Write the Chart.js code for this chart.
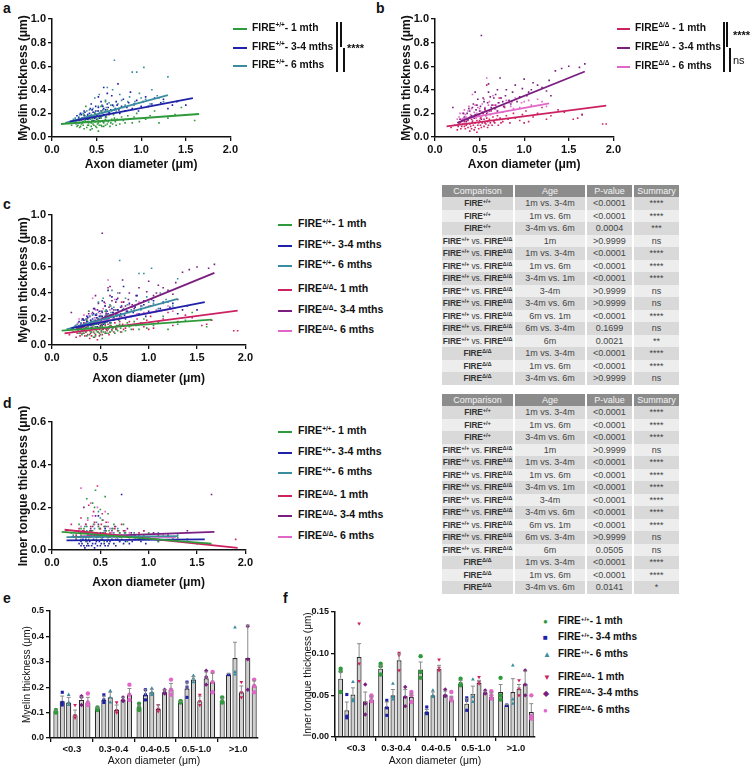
<!DOCTYPE html>
<html>
<head>
<meta charset="utf-8">
<script src="https://cdn.jsdelivr.net/npm/chart.js@4.4.1/dist/chart.umd.min.js"></script>
<style>
  body { margin: 0; background: #fff; font-family: "Liberation Sans", Arial, sans-serif; }
  #fig { position: relative; width: 753px; height: 767px; overflow: hidden; }
  canvas { position: absolute; }
  .pl { position: absolute; font-weight: bold; font-size: 14px; color: #111; }
  .leg { position: absolute; font-weight: bold; white-space: nowrap; color: #111; z-index: 2; }
  .ln { position: absolute; height: 2px; }
  .mk { position: absolute; font-size: 8px; line-height: 8px; }
  sup { font-size: 0.62em; vertical-align: 0; position: relative; top: -0.55em; line-height: 0; }
  .br { position: absolute; background: #111; width: 1.5px; z-index: 2; }
  .sig { position: absolute; font-weight: bold; font-size: 11px; color: #111; }
  table.st { position: absolute; border-collapse: collapse; font-size: 9px; color: #444; table-layout: fixed; }
  table.st th { background: #8c8c8c; color: #f4f4f4; font-weight: normal; height: 12px; line-height: 12px; padding: 0; border-right: 2px solid #fff; }
  table.st td { height: 12.5px; line-height: 12.5px; padding: 0; text-align: center; border-right: 2px solid #fff; white-space: nowrap; overflow: hidden; box-sizing: border-box; }
  table.st td:first-child { font-size: 8.3px; letter-spacing: -0.1px; }
  table.st tr:nth-child(odd) td { background: #ededed; }
  table.st tr:nth-child(even) td { background: #d9d9d9; }
  table.st td b { color: #333; }
  table.st sup { font-size: 0.7em; top: -0.45em; }
</style>
</head>
<body>
<div id="fig"></div>
<script>
// ==================== DADOS ====================

const seriesNames = ['1 mth', '3-4 mths', '6 mths', '1 mth', '3-4 mths', '6 mths'];
const seriesColors = ['#2f9a3c', '#1f22a8', '#3a8d9e', '#cc2262', '#7a1e80', '#e266c8'];

// myelin thickness vs axon diameter [x, y]
const wt1Myelin = [[0.22,0.10],[0.25,0.12],[0.28,0.09],[0.3,0.14],[0.31,0.08],[0.33,0.11],[0.35,0.13],[0.36,0.07],[0.38,0.16],[0.4,0.1],[0.41,0.12],[0.42,0.18],[0.44,0.09],[0.45,0.14],[0.46,0.11],[0.48,0.2],[0.49,0.13],[0.5,0.08],[0.51,0.15],[0.52,0.12],[0.53,0.17],[0.55,0.1],[0.56,0.22],[0.57,0.13],[0.58,0.09],[0.6,0.15],[0.62,0.11],[0.64,0.19],[0.66,0.12],[0.7,0.16],[0.72,0.1],[0.75,0.24],[0.8,0.14],[0.85,0.18],[0.9,0.12],[0.95,0.2],[1.05,0.15],[1.15,0.22],[1.3,0.16],[1.45,0.25],[1.6,0.14],[0.38,0.26],[0.6,0.3],
  [0.27,0.13],[0.29,0.1],[0.31,0.15],[0.32,0.09],[0.34,0.12],[0.35,0.1],[0.37,0.14],[0.39,0.08],[0.4,0.13],[0.41,0.1],[0.43,0.15],[0.44,0.12],[0.45,0.07],[0.46,0.16],[0.47,0.1],[0.48,0.13],[0.49,0.09],[0.5,0.17],[0.51,0.11],[0.52,0.14],[0.53,0.1],[0.54,0.13],[0.55,0.16],[0.56,0.09],[0.57,0.18],[0.58,0.12],[0.59,0.14],[0.6,0.1],[0.61,0.17],[0.63,0.13],[0.65,0.09],[0.67,0.15],[0.68,0.11],[0.69,0.19],[0.71,0.13],[0.73,0.15],[0.76,0.11],[0.78,0.17],[0.82,0.12],[0.87,0.15],[0.92,0.17],[0.98,0.13],[1.1,0.18],[1.2,0.12],[1.38,0.19],[0.43,0.06],[0.52,0.05],[0.36,0.19],[0.62,0.23],[0.55,0.26]];
const wt3Myelin = [[0.26,0.14],[0.28,0.18],[0.3,0.12],[0.32,0.2],[0.34,0.16],[0.36,0.22],[0.38,0.15],[0.4,0.19],[0.41,0.13],[0.43,0.24],[0.44,0.17],[0.46,0.21],[0.47,0.14],[0.49,0.26],[0.5,0.18],[0.52,0.22],[0.53,0.16],[0.55,0.3],[0.56,0.2],[0.58,0.24],[0.6,0.17],[0.62,0.28],[0.64,0.21],[0.67,0.35],[0.7,0.23],[0.73,0.27],[0.76,0.2],[0.8,0.32],[0.84,0.25],[0.88,0.38],[0.92,0.28],[0.97,0.22],[1.02,0.3],[1.08,0.26],[1.15,0.33],[1.22,0.29],[1.3,0.24],[1.4,0.3],[1.5,0.27],[0.58,0.42],[0.74,0.45],
  [0.3,0.16],[0.31,0.14],[0.33,0.19],[0.35,0.13],[0.36,0.18],[0.37,0.21],[0.39,0.17],[0.4,0.15],[0.42,0.2],[0.42,0.16],[0.43,0.18],[0.45,0.14],[0.45,0.23],[0.46,0.18],[0.48,0.16],[0.48,0.2],[0.49,0.22],[0.5,0.15],[0.51,0.19],[0.52,0.25],[0.53,0.2],[0.54,0.17],[0.55,0.22],[0.56,0.18],[0.57,0.26],[0.58,0.19],[0.59,0.21],[0.6,0.23],[0.61,0.19],[0.63,0.25],[0.65,0.2],[0.66,0.23],[0.68,0.27],[0.69,0.2],[0.71,0.24],[0.72,0.3],[0.75,0.23],[0.78,0.26],[0.82,0.22],[0.86,0.29],[0.9,0.24],[0.95,0.31],[1.0,0.26],[1.05,0.34],[1.12,0.28],[1.25,0.32],[1.35,0.27],[0.52,0.34],[0.62,0.37],[0.44,0.28]];
const wt6Myelin = [[0.2,0.12],[0.24,0.15],[0.27,0.11],[0.3,0.17],[0.33,0.14],[0.35,0.2],[0.38,0.13],[0.4,0.18],[0.42,0.23],[0.45,0.16],[0.47,0.21],[0.5,0.19],[0.52,0.26],[0.55,0.17],[0.57,0.23],[0.6,0.31],[0.63,0.2],[0.66,0.27],[0.7,0.65],[0.72,0.22],[0.76,0.36],[0.8,0.25],[0.85,0.3],[0.9,0.55],[0.92,0.27],[0.95,0.55],[1.0,0.33],[1.03,0.59],[1.1,0.28],[1.18,0.35],[1.25,0.3],[1.3,0.51],[0.62,0.42],[0.48,0.33],
  [0.22,0.13],[0.26,0.16],[0.29,0.14],[0.31,0.19],[0.34,0.16],[0.37,0.18],[0.39,0.22],[0.41,0.15],[0.44,0.19],[0.46,0.24],[0.49,0.17],[0.51,0.22],[0.54,0.2],[0.56,0.27],[0.59,0.21],[0.61,0.25],[0.64,0.29],[0.67,0.22],[0.69,0.26],[0.74,0.28],[0.78,0.31],[0.82,0.27],[0.87,0.34],[0.93,0.3],[0.98,0.37],[1.05,0.32],[1.12,0.4],[1.2,0.33],[0.53,0.36],[0.68,0.4]];
const ko1Myelin = [[0.18,0.08],[0.22,0.1],[0.25,0.06],[0.28,0.12],[0.3,0.09],[0.32,0.14],[0.34,0.07],[0.36,0.11],[0.38,0.16],[0.4,0.09],[0.42,0.13],[0.44,0.06],[0.46,0.18],[0.48,0.1],[0.5,0.14],[0.52,0.08],[0.54,0.2],[0.56,0.12],[0.58,0.16],[0.6,0.1],[0.63,0.22],[0.66,0.13],[0.7,0.18],[0.74,0.12],[0.78,0.25],[0.82,0.15],[0.88,0.2],[0.95,0.14],[1.02,0.22],[1.1,0.17],[1.2,0.25],[1.3,0.18],[1.45,0.21],[1.55,0.15],[1.65,0.19],[1.88,0.11],[1.92,0.11],[0.72,0.33],[0.58,0.44],
  [0.26,0.09],[0.27,0.12],[0.29,0.07],[0.31,0.11],[0.33,0.09],[0.33,0.13],[0.35,0.1],[0.37,0.08],[0.37,0.14],[0.39,0.11],[0.41,0.07],[0.41,0.15],[0.43,0.1],[0.45,0.12],[0.45,0.08],[0.47,0.14],[0.49,0.07],[0.49,0.12],[0.51,0.1],[0.51,0.16],[0.53,0.12],[0.55,0.09],[0.55,0.15],[0.57,0.11],[0.59,0.13],[0.59,0.08],[0.61,0.15],[0.62,0.12],[0.64,0.1],[0.65,0.17],[0.67,0.12],[0.69,0.15],[0.71,0.1],[0.73,0.16],[0.76,0.13],[0.8,0.18],[0.84,0.12],[0.9,0.16],[0.98,0.19],[1.05,0.13],[1.15,0.2],[1.25,0.15],[1.38,0.23],[0.39,0.05],[0.47,0.04],[0.56,0.23],[0.68,0.27],[0.86,0.3],[1.0,0.12],[1.6,0.16]];
const ko3Myelin = [[0.2,0.25],[0.28,0.15],[0.32,0.2],[0.35,0.13],[0.38,0.24],[0.4,0.17],[0.43,0.28],[0.45,0.19],[0.48,0.32],[0.5,0.22],[0.52,0.15],[0.55,0.3],[0.58,0.2],[0.6,0.38],[0.63,0.25],[0.66,0.33],[0.7,0.22],[0.73,0.5],[0.76,0.3],[0.8,0.4],[0.85,0.28],[0.9,0.44],[0.95,0.34],[1.0,0.49],[1.05,0.38],[1.1,0.46],[1.2,0.42],[1.3,0.35],[1.35,0.56],[1.42,0.58],[1.5,0.6],[1.62,0.59],[1.68,0.62],[1.65,0.19],[0.52,0.86],
  [0.3,0.14],[0.33,0.17],[0.36,0.2],[0.37,0.15],[0.39,0.22],[0.41,0.18],[0.42,0.25],[0.44,0.16],[0.46,0.23],[0.47,0.27],[0.49,0.19],[0.51,0.26],[0.53,0.21],[0.54,0.33],[0.56,0.24],[0.57,0.18],[0.59,0.29],[0.61,0.22],[0.62,0.34],[0.64,0.27],[0.67,0.24],[0.68,0.36],[0.71,0.29],[0.74,0.33],[0.77,0.26],[0.79,0.35],[0.83,0.31],[0.87,0.38],[0.92,0.3],[0.98,0.41],[1.03,0.35],[1.08,0.4],[1.15,0.44],[1.25,0.39],[1.28,0.48],[0.45,0.38],[0.6,0.45],[0.7,0.4]];
const ko6Myelin = [[0.25,0.15],[0.28,0.2],[0.3,0.13],[0.33,0.23],[0.35,0.17],[0.38,0.26],[0.4,0.19],[0.42,0.14],[0.45,0.27],[0.47,0.2],[0.5,0.24],[0.52,0.17],[0.55,0.32],[0.57,0.22],[0.6,0.27],[0.62,0.19],[0.65,0.35],[0.68,0.24],[0.72,0.29],[0.76,0.21],[0.8,0.31],[0.85,0.26],[0.9,0.33],[0.95,0.25],[1.0,0.3],[1.08,0.27],[1.15,0.32],[1.25,0.26],[0.58,0.5],[0.42,0.36],
  [0.27,0.17],[0.29,0.15],[0.31,0.2],[0.32,0.16],[0.34,0.19],[0.36,0.14],[0.37,0.22],[0.39,0.17],[0.41,0.24],[0.43,0.18],[0.44,0.21],[0.46,0.16],[0.48,0.25],[0.49,0.19],[0.51,0.22],[0.53,0.28],[0.54,0.2],[0.56,0.25],[0.59,0.21],[0.61,0.3],[0.63,0.23],[0.66,0.27],[0.7,0.22],[0.74,0.33],[0.78,0.26],[0.83,0.29],[0.88,0.24],[0.97,0.29],[1.05,0.31],[1.2,0.3]];

// linear fits (start, end) for myelin
const myelinFits = [
  [[0.1,0.11],[1.65,0.195]],
  [[0.2,0.13],[1.58,0.33]],
  [[0.15,0.12],[1.3,0.355]],
  [[0.13,0.09],[1.92,0.265]],
  [[0.25,0.12],[1.68,0.555]],
  [[0.3,0.15],[1.28,0.285]]
];

// inner tongue thickness vs axon diameter [x, y]
const wt1Tongue = [[0.2,0.08],[0.25,0.05],[0.28,0.12],[0.3,0.07],[0.33,0.1],[0.35,0.04],[0.37,0.15],[0.4,0.06],[0.42,0.09],[0.44,0.2],[0.46,0.05],[0.48,0.11],[0.5,0.07],[0.52,0.14],[0.54,0.04],[0.56,0.09],[0.58,0.17],[0.6,0.06],[0.63,0.1],[0.66,0.05],[0.7,0.08],[0.74,0.12],[0.78,0.04],[0.82,0.07],[0.9,0.05],[1.0,0.08],[1.1,0.04],[1.3,0.06],[1.5,0.03],[0.45,0.28],[0.36,0.24],
  [0.3,0.1],[0.32,0.06],[0.34,0.08],[0.36,0.11],[0.38,0.05],[0.39,0.09],[0.41,0.07],[0.43,0.12],[0.45,0.08],[0.47,0.06],[0.49,0.1],[0.51,0.05],[0.53,0.08],[0.55,0.11],[0.57,0.06],[0.59,0.09],[0.61,0.07],[0.64,0.12],[0.67,0.06],[0.69,0.09],[0.72,0.05],[0.76,0.08],[0.85,0.06],[0.95,0.07],[0.42,0.22],[0.5,0.19],[0.55,0.25]];
const wt3Tongue = [[0.28,0.03],[0.3,0.02],[0.32,0.05],[0.34,0.01],[0.36,0.04],[0.38,0.02],[0.4,0.06],[0.42,0.03],[0.44,0.01],[0.46,0.04],[0.48,0.16],[0.5,0.02],[0.52,0.05],[0.54,0.03],[0.56,0.07],[0.58,0.02],[0.6,0.04],[0.64,0.03],[0.68,0.05],[0.72,0.26],[0.76,0.04],[0.8,0.03],[0.86,0.05],[0.92,0.04],[1.0,0.06],[1.1,0.04],[1.25,0.05],[1.4,0.05],[0.4,0.09],
  [0.3,0.04],[0.31,0.03],[0.33,0.02],[0.35,0.05],[0.36,0.02],[0.37,0.03],[0.39,0.04],[0.41,0.02],[0.43,0.05],[0.45,0.03],[0.47,0.02],[0.49,0.04],[0.51,0.03],[0.53,0.06],[0.55,0.02],[0.57,0.04],[0.59,0.03],[0.62,0.05],[0.66,0.02],[0.7,0.04],[0.74,0.03],[0.83,0.04],[0.9,0.05],[0.97,0.03],[0.38,0.08],[0.55,0.1]];
const wt6Tongue = [[0.22,0.07],[0.26,0.09],[0.3,0.05],[0.34,0.11],[0.38,0.06],[0.42,0.08],[0.46,0.13],[0.5,0.06],[0.54,0.09],[0.58,0.05],[0.62,0.1],[0.66,0.07],[0.7,0.04],[0.75,0.08],[0.8,0.06],[0.9,0.07],[1.0,0.05],[1.1,0.08],[1.2,0.06],[1.3,0.07],[0.48,0.18],
  [0.28,0.08],[0.32,0.06],[0.36,0.09],[0.4,0.07],[0.44,0.1],[0.48,0.06],[0.52,0.08],[0.56,0.11],[0.6,0.06],[0.64,0.08],[0.68,0.1],[0.72,0.06],[0.85,0.08],[0.95,0.06],[0.5,0.15]];
const ko1Tongue = [[0.15,0.09],[0.2,0.12],[0.25,0.07],[0.3,0.15],[0.33,0.09],[0.36,0.06],[0.4,0.11],[0.43,0.18],[0.46,0.08],[0.5,0.1],[0.53,0.06],[0.56,0.13],[0.6,0.08],[0.65,0.1],[0.7,0.06],[0.75,0.09],[0.8,0.05],[0.9,0.08],[1.0,0.06],[1.1,0.07],[1.3,0.05],[1.6,0.03],[1.9,0.05],[0.47,0.3],
  [0.28,0.1],[0.32,0.08],[0.35,0.12],[0.38,0.07],[0.41,0.09],[0.44,0.13],[0.48,0.07],[0.51,0.12],[0.55,0.08],[0.58,0.11],[0.62,0.07],[0.68,0.09],[0.72,0.12],[0.85,0.07],[0.95,0.09],[0.38,0.21],[0.52,0.17]];
const ko3Tongue = [[0.25,0.05],[0.3,0.08],[0.35,0.06],[0.4,0.1],[0.44,0.07],[0.48,0.12],[0.52,0.06],[0.56,0.09],[0.6,0.07],[0.65,0.11],[0.7,0.08],[0.78,0.1],[0.86,0.07],[0.95,0.09],[1.05,0.08],[1.2,0.07],[1.4,0.09],[1.65,0.26],[0.33,0.2],
  [0.28,0.06],[0.32,0.09],[0.37,0.07],[0.42,0.11],[0.46,0.06],[0.5,0.08],[0.54,0.11],[0.58,0.06],[0.62,0.09],[0.68,0.07],[0.74,0.09],[0.82,0.08],[0.45,0.16]];
const ko6Tongue = [[0.28,0.09],[0.32,0.06],[0.35,0.12],[0.38,0.07],[0.42,0.16],[0.45,0.08],[0.48,0.11],[0.5,0.06],[0.53,0.14],[0.56,0.07],[0.6,0.1],[0.64,0.06],[0.68,0.09],[0.72,0.07],[0.8,0.08],[0.9,0.07],[1.0,0.06],[1.15,0.07],[1.25,0.06],[0.4,0.22],[0.3,0.29],
  [0.3,0.11],[0.34,0.08],[0.37,0.14],[0.4,0.09],[0.44,0.12],[0.47,0.07],[0.5,0.1],[0.55,0.09],[0.58,0.13],[0.62,0.08],[0.66,0.11],[0.7,0.06],[0.76,0.09],[0.47,0.2],[0.55,0.18]];

const tongueFits = [
  [[0.1,0.085],[1.65,0.03]],
  [[0.15,0.045],[1.58,0.05]],
  [[0.15,0.06],[1.3,0.065]],
  [[0.13,0.095],[1.92,0.01]],
  [[0.2,0.06],[1.68,0.085]],
  [[0.3,0.065],[1.28,0.06]]
];

// binned bar charts (series x bins)
const bins = ['<0.3', '0.3-0.4', '0.4-0.5', '0.5-1.0', '>1.0'];
const myelinMeans = [
  [0.105, 0.115, 0.12, 0.14, 0.145],
  [0.145, 0.15, 0.17, 0.195, 0.25],
  [0.14, 0.16, 0.18, 0.23, 0.315],
  [0.09, 0.11, 0.115, 0.145, 0.18],
  [0.15, 0.15, 0.18, 0.235, 0.315],
  [0.14, 0.17, 0.19, 0.22, 0.205]
];
const myelinSd = [
  [0.005, 0.006, 0.01, 0.004, 0.012],
  [0.02, 0.015, 0.02, 0.025, 0.004],
  [0.02, 0.02, 0.012, 0.012, 0.062],
  [0.02, 0.02, 0.015, 0.02, 0.025],
  [0.012, 0.01, 0.01, 0.025, 0.13],
  [0.02, 0.025, 0.025, 0.035, 0.02]
];
const myelinPts = [
  [[0.10,0.11,0.105],[0.12,0.11,0.115],[0.135,0.11,0.12],[0.145,0.14,0.145],[0.16,0.14,0.145]],
  [[0.18,0.13,0.14],[0.17,0.14,0.15],[0.19,0.15,0.17],[0.22,0.16,0.2],[0.25,0.25,0.25]],
  [[0.17,0.13,0.14],[0.185,0.14,0.16],[0.195,0.17,0.18],[0.245,0.22,0.235],[0.435,0.25,0.26]],
  [[0.13,0.08,0.09],[0.14,0.10,0.11],[0.13,0.105,0.115],[0.17,0.13,0.145],[0.22,0.16,0.18]],
  [[0.165,0.16,0.13],[0.16,0.145,0.15],[0.19,0.175,0.18],[0.265,0.21,0.24],[0.44,0.19,0.31]],
  [[0.175,0.13,0.14],[0.21,0.15,0.17],[0.23,0.17,0.19],[0.26,0.18,0.22],[0.23,0.18,0.205]]
];

const tongueMeans = [
  [0.07, 0.082, 0.081, 0.064, 0.054],
  [0.032, 0.036, 0.03, 0.04, 0.038],
  [0.051, 0.05, 0.05, 0.052, 0.054],
  [0.096, 0.092, 0.082, 0.065, 0.058],
  [0.043, 0.049, 0.051, 0.053, 0.064],
  [0.045, 0.048, 0.045, 0.048, 0.03]
];
const tongueSd = [
  [0.008, 0.004, 0.009, 0.004, 0.009],
  [0.01, 0.006, 0.003, 0.006, 0.001],
  [0.008, 0.007, 0.004, 0.009, 0.016],
  [0.016, 0.008, 0.004, 0.003, 0.005],
  [0.011, 0.008, 0.004, 0.002, 0.015],
  [0.004, 0.004, 0.004, 0.005, 0.01]
];
const tonguePts = [
  [[0.082,0.054,0.079],[0.088,0.075,0.085],[0.097,0.071,0.078],[0.07,0.062,0.064],[0.071,0.045,0.05]],
  [[0.051,0.023,0.025],[0.044,0.026,0.035],[0.036,0.028,0.029],[0.047,0.032,0.044],[0.038,0.038,0.038]],
  [[0.066,0.045,0.043],[0.064,0.045,0.048],[0.056,0.05,0.048],[0.069,0.042,0.048],[0.086,0.04,0.045]],
  [[0.136,0.088,0.067],[0.101,0.08,0.098],[0.093,0.08,0.083],[0.072,0.064,0.066],[0.068,0.05,0.058]],
  [[0.063,0.027,0.04],[0.06,0.037,0.048],[0.057,0.049,0.05],[0.056,0.052,0.053],[0.08,0.05,0.063]],
  [[0.05,0.043,0.048],[0.054,0.042,0.05],[0.054,0.044,0.047],[0.055,0.046,0.05],[0.05,0.022,0.025]]
];

// tabelas de comparacao
const tblGroup = ['wt','wt','wt','x','x','x','x','x','x','x','x','x','ko','ko','ko'];
const tblAge = ['1m vs. 3-4m','1m vs. 6m','3-4m vs. 6m','1m','1m vs. 3-4m','1m vs. 6m','3-4m vs. 1m','3-4m','3-4m vs. 6m','6m vs. 1m','6m vs. 3-4m','6m','1m vs. 3-4m','1m vs. 6m','3-4m vs. 6m'];
const myelinP = ['<0.0001','<0.0001','0.0004','>0.9999','<0.0001','<0.0001','<0.0001','>0.9999','>0.9999','<0.0001','0.1699','0.0021','<0.0001','<0.0001','>0.9999'];
const myelinSum = ['****','****','***','ns','****','****','****','ns','ns','****','ns','**','****','****','ns'];
const tongueP = ['<0.0001','<0.0001','<0.0001','>0.9999','<0.0001','<0.0001','<0.0001','<0.0001','<0.0001','<0.0001','>0.9999','0.0505','<0.0001','<0.0001','0.0141'];
const tongueSum = ['****','****','****','ns','****','****','****','****','****','****','ns','ns','****','****','*'];

// ==================== AUXILIARES ====================

const FONT = '"Liberation Sans", Arial, sans-serif';
const fig = document.getElementById('fig');
const WT = 'FIRE<sup>+/+</sup>';
const KO = 'FIRE<sup>&Delta;/&Delta;</sup>';

Chart.defaults.font.family = FONT;
Chart.defaults.color = '#111';
Chart.defaults.animation = false;

function addCanvas(left, top, w, h) {
    const c = document.createElement('canvas');
    c.width = w; c.height = h;
    c.style.left = left + 'px'; c.style.top = top + 'px';
    c.style.width = w + 'px'; c.style.height = h + 'px';
    fig.appendChild(c);
    return c;
}

function addHtml(cls, left, top, html, style) {
    const d = document.createElement('div');
    d.className = cls;
    d.style.left = left + 'px'; d.style.top = top + 'px';
    if (style) Object.assign(d.style, style);
    d.innerHTML = html;
    fig.appendChild(d);
    return d;
}

function axisStyle(tickSize) {
    return {
        grid: { display: true, drawOnChartArea: false, drawTicks: true, tickLength: 4, color: '#111', lineWidth: 1.3 },
        border: { display: true, color: '#111', width: 1.5 },
        ticks: { font: { size: tickSize, weight: 'bold' }, color: '#111', padding: 2 }
    };
}

function toXY(arr) { return arr.map(p => ({ x: p[0], y: p[1] })); }

function scatterChart(canvas, sets, fits, idx, opt) {
    const datasets = [];
    idx.forEach(i => {
        datasets.push({
            type: 'line', data: toXY(fits[i]), borderColor: seriesColors[i], borderWidth: 1.8,
            pointRadius: 0, showLine: true, order: 0
        });
    });
    idx.forEach(i => {
        datasets.push({
            type: 'scatter', data: toXY(sets[i]), backgroundColor: seriesColors[i], borderWidth: 0,
            pointRadius: 1.15, pointStyle: 'rect', order: 1
        });
    });
    const xs = axisStyle(11), ys = axisStyle(11);
    return new Chart(canvas, {
        type: 'scatter',
        data: { datasets },
        options: {
            responsive: false,
            layout: { padding: { top: opt.padTop, right: 8, left: opt.padLeft, bottom: 0 } },
            plugins: { legend: { display: false }, tooltip: { enabled: false } },
            scales: {
                x: Object.assign(xs, {
                    type: 'linear', min: 0, max: 2,
                    ticks: Object.assign(xs.ticks, { stepSize: 0.5, callback: v => v.toFixed(1) }),
                    title: { display: true, text: 'Axon diameter (\u03bcm)', font: { size: 12, weight: 'bold' }, padding: 0 },
                    afterFit: s => { s.height = opt.xH; }
                }),
                y: Object.assign(ys, {
                    min: 0, max: opt.yMax,
                    ticks: Object.assign(ys.ticks, { stepSize: opt.yStep, callback: v => v.toFixed(1) }),
                    title: { display: true, text: opt.yTitle, font: { size: 12, weight: 'bold' }, padding: 0 },
                    afterFit: s => { s.width = opt.yW; }
                })
            }
        }
    });
}

const errorBars = {
    id: 'errorBars',
    afterDatasetsDraw(chart) {
        const ctx = chart.ctx;
        chart.data.datasets.forEach((ds, di) => {
            if (!ds.sd) return;
            const meta = chart.getDatasetMeta(di);
            const yScale = chart.scales.y;
            ctx.save();
            ctx.strokeStyle = '#8a8a8a';
            ctx.lineWidth = 1;
            meta.data.forEach((bar, i) => {
                const top = yScale.getPixelForValue(ds.data[i].y + ds.sd[i]);
                ctx.beginPath();
                ctx.moveTo(bar.x, bar.y);
                ctx.lineTo(bar.x, top);
                ctx.moveTo(bar.x - 2, top);
                ctx.lineTo(bar.x + 2, top);
                ctx.stroke();
            });
            ctx.restore();
        });
    }
};

const ptStyles = ['circle', 'rect', 'triangle', 'triangle', 'rectRot', 'circle'];
const ptRot = [0, 0, 0, 180, 0, 0];

function barChart(canvas, means, sd, pts, opt) {
    const pos = (g, j) => g * 6.5 + j;
    const barData = [], barSd = [];
    means.forEach((row, j) => row.forEach((v, g) => {
        barData.push({ x: pos(g, j), y: v });
        barSd.push(sd[j][g]);
    }));
    const datasets = [{
        type: 'bar', data: barData, sd: barSd, backgroundColor: '#cfcfcf', borderColor: '#2a2a2a',
        borderWidth: 1.2, barPercentage: 0.8, categoryPercentage: 1, order: 2
    }];
    pts.forEach((row, j) => {
        const d = [];
        row.forEach((vals, g) => vals.forEach(v => d.push({ x: pos(g, j), y: v })));
        datasets.push({
            type: 'scatter', data: d, backgroundColor: seriesColors[j], borderColor: seriesColors[j], borderWidth: 0,
            pointRadius: 2.2, pointStyle: ptStyles[j], rotation: ptRot[j], order: 0
        });
    });
    const xs = axisStyle(9.5), ys = axisStyle(9);
    return new Chart(canvas, {
        type: 'bar',
        data: { datasets },
        plugins: [errorBars],
        options: {
            responsive: false,
            layout: { padding: { top: opt.padTop, right: opt.padRight, left: opt.padLeft, bottom: 0 } },
            plugins: { legend: { display: false }, tooltip: { enabled: false } },
            scales: {
                x: Object.assign(xs, {
                    type: 'linear', min: -0.92, max: 31.6, offset: false,
                    afterBuildTicks: s => { s.ticks = bins.map((b, g) => ({ value: pos(g, 2.5) })); },
                    ticks: Object.assign(xs.ticks, { callback: (v, i) => bins[i] }),
                    title: { display: true, text: 'Axon diameter (\u03bcm)', font: { size: 10.5 }, padding: 0 },
                    afterFit: s => { s.height = opt.xH; }
                }),
                y: Object.assign(ys, {
                    min: 0, max: opt.yMax,
                    ticks: Object.assign(ys.ticks, { stepSize: opt.yStep, callback: v => v.toFixed(opt.dec) }),
                    title: { display: true, text: opt.yTitle, font: { size: 10 }, padding: 0 },
                    afterFit: s => { s.width = opt.yW; }
                })
            }
        }
    });
}

function lineLegend(x, lineW, textX, ys, labels, idx, size) {
    idx.forEach((si, k) => {
        addHtml('ln', x, ys[k] - 1, '', { width: lineW + 'px', background: seriesColors[si] });
        addHtml('leg', textX, ys[k] - size * 0.62, labels[k], { fontSize: size + 'px', lineHeight: size + 'px' });
    });
}

function bracket(x, y1, y2) {
    addHtml('br', x, y1, '', { height: (y2 - y1) + 'px' });
}

function statTable(left, top, pvals, sums) {
    const t = document.createElement('table');
    t.className = 'st';
    t.style.left = left + 'px'; t.style.top = top + 'px';
    t.style.width = '238px';
    let html = '<colgroup><col style="width:72px"><col style="width:72px"><col style="width:47px"><col style="width:47px"></colgroup>';
    html += '<tr><th>Comparison</th><th>Age</th><th>P-value</th><th>Summary</th></tr>';
    tblGroup.forEach((g, i) => {
        let comp;
        if (g === 'wt') comp = '<b>' + WT + '</b>';
        else if (g === 'ko') comp = '<b>' + KO + '</b>';
        else comp = '<b>' + WT + '</b> vs. <b>' + KO + '</b>';
        html += '<tr><td>' + comp + '</td><td>' + tblAge[i] + '</td><td>' + pvals[i] + '</td><td>' + sums[i] + '</td></tr>';
    });
    t.innerHTML = html;
    fig.appendChild(t);
}

// ==================== MONTAGEM ====================

// letras dos paineis
[['a', 3, 0], ['b', 376, 0], ['c', 3, 196], ['d', 3, 395], ['e', 3, 590], ['f', 283, 590]]
    .forEach(p => addHtml('pl', p[1], p[2], p[0]));

const wtIdx = [0, 1, 2], koIdx = [3, 4, 5], allIdx = [0, 1, 2, 3, 4, 5];
const mSets = [wt1Myelin, wt3Myelin, wt6Myelin, ko1Myelin, ko3Myelin, ko6Myelin];
const tSets = [wt1Tongue, wt3Tongue, wt6Tongue, ko1Tongue, ko3Tongue, ko6Tongue];

// a
scatterChart(addCanvas(0, 0, 240, 172), mSets, myelinFits, wtIdx,
    { padTop: 19, padLeft: 16, yW: 36, xH: 35, yMax: 1, yStep: 0.2, yTitle: 'Myelin thickness (\u03bcm)' });
lineLegend(233, 14, 252, [29, 48, 66], wtIdx.map(i => WT + '- ' + seriesNames[i]), wtIdx, 10.3);
bracket(336, 22, 72); bracket(340, 22, 47); bracket(343, 48, 72);
addHtml('sig', 347, 42, '****');

// b
scatterChart(addCanvas(383, 0, 240, 172), mSets, myelinFits, koIdx,
    { padTop: 19, padLeft: 16, yW: 36, xH: 35, yMax: 1, yStep: 0.2, yTitle: 'Myelin thickness (\u03bcm)' });
lineLegend(617, 13, 635, [29, 48, 67], koIdx.map(i => KO + ' - ' + seriesNames[i]), koIdx, 10.3);
bracket(723, 22, 72); bracket(726, 22, 47); bracket(729, 48, 72);
addHtml('sig', 733, 29, '****');
addHtml('sig', 733, 54, 'ns', { fontWeight: 'normal' });

// c
scatterChart(addCanvas(0, 196, 255, 190), mSets, myelinFits, allIdx,
    { padTop: 19, padLeft: 16, yW: 36, xH: 41, yMax: 1, yStep: 0.2, yTitle: 'Myelin thickness (\u03bcm)' });
lineLegend(278, 14, 298, [225, 246, 266, 290, 311, 331],
    allIdx.map(i => (i < 3 ? WT : KO) + '- ' + seriesNames[i]), allIdx, 10.6);
statTable(442, 185, myelinP, myelinSum);

// d
scatterChart(addCanvas(0, 403, 255, 187), tSets, tongueFits, allIdx,
    { padTop: 19, padLeft: 16, yW: 36, xH: 40, yMax: 0.6, yStep: 0.2, yTitle: 'Inner tongue thickness (\u03bcm)' });
lineLegend(278, 14, 298, [432, 453, 473, 496, 516, 537],
    allIdx.map(i => (i < 3 ? WT : KO) + '- ' + seriesNames[i]), allIdx, 10.6);
statTable(442, 394, tongueP, tongueSum);

// e
barChart(addCanvas(0, 598, 266, 169), myelinMeans, myelinSd, myelinPts,
    { padTop: 13, padLeft: 21, padRight: 8, yW: 29, xH: 29, yMax: 0.5, yStep: 0.1, dec: 1, yTitle: 'Myelin thickness (\u03bcm)' });

// f
barChart(addCanvas(300, 598, 243, 169), tongueMeans, tongueSd, tonguePts,
    { padTop: 14, padLeft: 2, padRight: 8, yW: 33, xH: 30, yMax: 0.15, yStep: 0.05, dec: 2, yTitle: 'Inner tongue thickness (\u03bcm)' });

const markChars = ['\u25cf', '\u25a0', '\u25b2', '\u25bc', '\u25c6', '\u25cf'];
[622, 638, 655, 678, 694, 711].forEach((y, k) => {
    addHtml('mk', 543, y - 4, markChars[k], { color: seriesColors[k] });
    addHtml('leg', 558, y - 6, (k < 3 ? WT : KO) + '- ' + seriesNames[k], { fontSize: '10px', lineHeight: '10px' });
});
</script>
</body>
</html>
